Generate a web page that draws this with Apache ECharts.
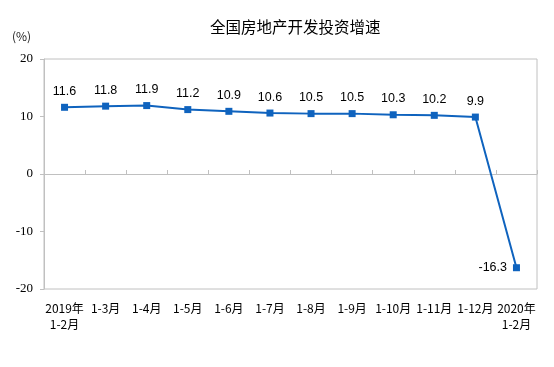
<!DOCTYPE html>
<html><head><meta charset="utf-8">
<script src="https://cdn.jsdelivr.net/npm/echarts@6/dist/echarts.min.js"></script>
<style>html,body{margin:0;padding:0;background:#fff}#c{width:554px;height:367px}</style>
</head><body><div id="c"></div>
<script>
const categories = ['2019年\n1-2月','1-3月','1-4月','1-5月','1-6月','1-7月','1-8月','1-9月','1-10月','1-11月','1-12月','2020年\n1-2月'];
const values = [11.6, 11.8, 11.9, 11.2, 10.9, 10.6, 10.5, 10.5, 10.3, 10.2, 9.9, -16.3];
const yTicks = [-20, -10, 0, 10, 20];

const chart = echarts.init(document.getElementById('c'));
const lineColor = '#0f63be';
chart.setOption({
  animation: false,
  title: {
    text: '全国房地产开发投资增速',
    left: 205, top: 14,
    textStyle: {fontFamily: 'Noto Sans CJK SC', fontSize: 15.5, fontWeight: 'normal', color: '#000'}
  },
  graphic: [{
    type: 'text', left: 12, top: 30,
    style: {text: '(%)', font: '12px "Noto Sans CJK SC"', fill: '#222'}
  }],
  grid: {left: 44, right: 17, top: 59, bottom: 78, show: true, borderColor: '#c0c0c0', borderWidth: 1},
  xAxis: {
    type: 'category', data: categories, boundaryGap: true,
    axisLine: {lineStyle: {color: '#c0c0c0'}},
    axisTick: {show: true, inside: true, length: 4, interval: 0, lineStyle: {color: '#c0c0c0'}},
    axisLabel: {interval: 0, margin: 11, fontSize: 12, lineHeight: 16, color: '#000', fontFamily: 'Noto Sans CJK SC'}
  },
  yAxis: {
    type: 'value', min: yTicks[0], max: yTicks[yTicks.length-1], interval: 10,
    splitLine: {show: false},
    axisLine: {show: true, lineStyle: {color: '#c0c0c0'}},
    axisTick: {show: true, length: 4, lineStyle: {color: '#c0c0c0'}},
    axisLabel: {margin: 11, fontSize: 13, color: '#000', fontFamily: 'Liberation Serif'}
  },
  series: [{
    type: 'line', data: values.map((v, i) => i === values.length - 1 ? {value: v, label: {position: 'left', distance: 6}} : v),
    symbol: 'rect', symbolSize: 7,
    lineStyle: {color: lineColor, width: 2},
    itemStyle: {color: lineColor},
    label: {show: true, position: 'top', distance: 6, fontSize: 12.5, color: '#000', fontFamily: 'Liberation Sans'}
  }]
});
</script></body></html>
